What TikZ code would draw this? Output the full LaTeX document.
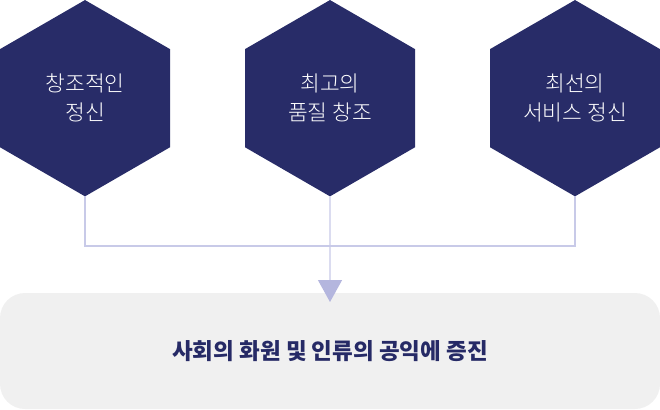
\documentclass[tikz,border=0pt]{standalone}
\usepackage{fontspec}
\newfontfamily\kr{Noto Sans CJK KR}
\newfontfamily\krl{Noto Sans CJK KR Light}
\usetikzlibrary{shapes.geometric,arrows.meta}
\definecolor{navy}{RGB}{40,44,104}
\definecolor{linec}{RGB}{200,202,232}
\definecolor{tipc}{RGB}{180,182,222}
\definecolor{boxc}{RGB}{240,240,240}
\definecolor{txtc}{RGB}{38,42,102}
\tikzset{
  hexa/.style={regular polygon, regular polygon sides=6, shape border rotate=30,
    minimum size=196.3pt, inner sep=0pt, outer sep=0pt, fill=navy, text=white,
    font=\krl\fontsize{21.5}{29}\selectfont, align=center},
  conn/.style={draw=linec, line width=1.3pt},
  goal/.style={rectangle, rounded corners=25pt, fill=boxc, minimum width=660pt,
    minimum height=116pt, inner sep=0pt, outer sep=0pt, text=txtc,
    font=\kr\bfseries\fontsize{22.5}{26}\selectfont}
}
\begin{document}
\begin{tikzpicture}[x=1pt,y=-1pt]
\useasboundingbox (0,0) rectangle (660,409);
\node[goal] (g) at (330,351) {사회의 화원 및 인류의 공익에 증진};
\node[hexa] (h1) at (85,98.2) {창조적인\\정신};
\node[hexa] (h2) at (330,98.2) {최고의\\품질 창조};
\node[hexa] (h3) at (575,98.2) {최선의\\서비스 정신};
\coordinate (j) at (330,246);
\coordinate (tip) at (330,302);
\draw[conn] (h1.south) |- (j) -| (h3.south);
\draw[conn, -{Triangle[width=24pt,length=22pt,color=tipc]}] (h2.south) -- (tip);
\end{tikzpicture}
\end{document}
